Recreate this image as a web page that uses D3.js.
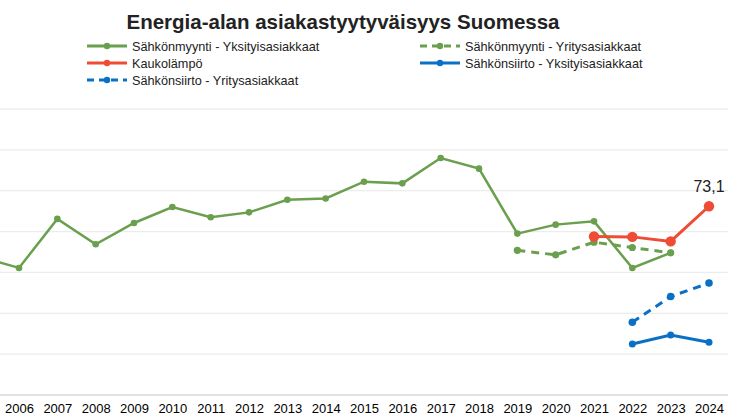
<!DOCTYPE html>
<html><head><meta charset="utf-8">
<script src="https://cdn.jsdelivr.net/npm/d3@7"></script>
<style>body{margin:0;background:#fff}svg{display:block;font-family:"Liberation Sans",Arial,sans-serif}</style>
</head><body><svg id="c" width="746" height="419"></svg>
<script>
const years = [2005,2006,2007,2008,2009,2010,2011,2012,2013,2014,2015,2016,2017,2018,2019,2020,2021,2022,2023,2024];
const tickYears = years.slice(1);
const myyntiYks = [66.9,65.55,71.55,68.45,71.05,73.0,71.75,72.35,73.9,74.05,76.1,75.9,79.0,77.7,69.75,70.85,71.25,65.55,67.4,null];
const myyntiYri = [null,null,null,null,null,null,null,null,null,null,null,null,null,null,67.7,67.15,68.7,68.05,67.4,null];
const kaukolampo = [null,null,null,null,null,null,null,null,null,null,null,null,null,null,null,null,69.4,69.35,68.8,73.1];
const siirtoYks = [null,null,null,null,null,null,null,null,null,null,null,null,null,null,null,null,null,56.25,57.35,56.45];
const siirtoYri = [null,null,null,null,null,null,null,null,null,null,null,null,null,null,null,null,null,58.9,62.05,63.7];
const gridValues = [50,55,60,65,70,75,80,85];

const svg = d3.select("#c");
const x = d3.scaleLinear().domain([2006,2024]).range([19,709]);
const y = d3.scaleLinear().domain([50,85]).range([395,109]);

const g = svg.append("g");
g.selectAll("line.grid").data(gridValues).join("line")
 .attr("x1",0).attr("x2",728).attr("y1",d=>y(d)).attr("y2",d=>y(d))
 .attr("stroke",d=>d===50?"#d9d9d9":"#ececec").attr("stroke-width",1.3);

const xa = svg.append("g").attr("transform","translate(0,395)")
 .call(d3.axisBottom(x).tickValues(tickYears).tickFormat(d3.format("d")).tickSize(0).tickPadding(9));
xa.select(".domain").remove();
xa.selectAll("text").attr("font-size",13).attr("fill","#000").attr("font-family","Liberation Sans, Arial");

const series = [
 {name:"Sähkönmyynti - Yksityisasiakkaat", v:myyntiYks, c:"#6a9f4e", w:2.5, dash:null, r:3.3},
 {name:"Sähkönmyynti - Yritysasiakkaat", v:myyntiYri, c:"#6a9f4e", w:3, dash:"8,6", r:3.6},
 {name:"Kaukolämpö", v:kaukolampo, c:"#ee4c35", w:3, dash:null, r:5.2},
 {name:"Sähkönsiirto - Yksityisasiakkaat", v:siirtoYks, c:"#0a70c6", w:3, dash:null, r:3.5},
 {name:"Sähkönsiirto - Yritysasiakkaat", v:siirtoYri, c:"#0a70c6", w:3, dash:"8,6", r:3.8}
];
const line = d3.line().defined(d=>d[1]!=null).x(d=>x(d[0])).y(d=>y(d[1]));
series.forEach(s=>{
  const pts = years.map((yr,i)=>[yr,s.v[i]]);
  g.append("path").datum(pts).attr("d",line).attr("fill","none")
   .attr("stroke",s.c).attr("stroke-width",s.w).attr("stroke-dasharray",s.dash);
  g.selectAll(null).data(pts.filter(d=>d[1]!=null)).join("circle")
   .attr("cx",d=>x(d[0])).attr("cy",d=>y(d[1])).attr("r",s.r).attr("fill",s.c);
});
svg.append("text").attr("x",x(2024)).attr("y",y(73.1)-14).attr("text-anchor","middle")
 .attr("font-size",16).attr("fill","#222").text("73,1");

svg.append("text").attr("x",343).attr("y",29).attr("text-anchor","middle")
 .attr("font-size",20.5).attr("font-weight","bold").attr("fill","#222").text("Energia-alan asiakastyytyväisyys Suomessa");

const legendOrder = [
 {s:series[0],x:87,y:46},{s:series[1],x:420,y:46},
 {s:series[2],x:87,y:63},{s:series[3],x:420,y:63},
 {s:series[4],x:87,y:80}];
legendOrder.forEach(o=>{
  const s=o.s;
  svg.append("line").attr("x1",o.x).attr("x2",o.x+40).attr("y1",o.y).attr("y2",o.y)
   .attr("stroke",s.c).attr("stroke-width",3).attr("stroke-dasharray",s.dash?"7,5":null);
  svg.append("circle").attr("cx",o.x+20).attr("cy",o.y).attr("r",3.2).attr("fill",s.c);
  svg.append("text").attr("x",o.x+45).attr("y",o.y+4.5).attr("font-size",12.7).attr("fill","#222").text(s.name);
});
</script></body></html>
